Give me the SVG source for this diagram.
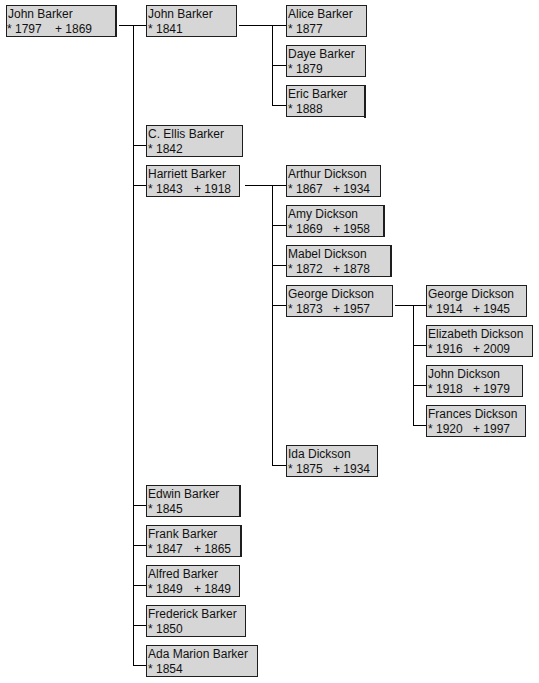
<svg xmlns="http://www.w3.org/2000/svg" width="539" height="683" viewBox="0 0 539 683">
<style>
.bx{fill:#d6d6d6;stroke:#1e1e1e;stroke-width:1}
.sh{stroke:#1e1e1e;stroke-width:2}
text{font-family:"Liberation Sans",Arial,sans-serif;font-size:12px;fill:#111}
.cn line{stroke:#000;stroke-width:1}
</style>
<rect width="539" height="683" fill="#fff"/>
<g class="cn">
<line x1="119" y1="25.5" x2="146" y2="25.5"/>
<line x1="133.5" y1="25" x2="133.5" y2="666"/>
<line x1="133" y1="145.5" x2="146" y2="145.5"/>
<line x1="133" y1="185.5" x2="146" y2="185.5"/>
<line x1="133" y1="505.5" x2="146" y2="505.5"/>
<line x1="133" y1="545.5" x2="146" y2="545.5"/>
<line x1="133" y1="585.5" x2="146" y2="585.5"/>
<line x1="133" y1="625.5" x2="146" y2="625.5"/>
<line x1="133" y1="665.5" x2="146" y2="665.5"/>
<line x1="239" y1="25.5" x2="286" y2="25.5"/>
<line x1="272.5" y1="25" x2="272.5" y2="106"/>
<line x1="272" y1="65.5" x2="286" y2="65.5"/>
<line x1="272" y1="105.5" x2="286" y2="105.5"/>
<line x1="245" y1="185.5" x2="286" y2="185.5"/>
<line x1="272.5" y1="185" x2="272.5" y2="466"/>
<line x1="272" y1="225.5" x2="286" y2="225.5"/>
<line x1="272" y1="265.5" x2="286" y2="265.5"/>
<line x1="272" y1="305.5" x2="286" y2="305.5"/>
<line x1="272" y1="465.5" x2="286" y2="465.5"/>
<line x1="395" y1="305.5" x2="426" y2="305.5"/>
<line x1="413.5" y1="305" x2="413.5" y2="426"/>
<line x1="413" y1="345.5" x2="426" y2="345.5"/>
<line x1="413" y1="385.5" x2="426" y2="385.5"/>
<line x1="413" y1="425.5" x2="426" y2="425.5"/>
</g>
<g id="n1"><rect class="bx" x="6.5" y="5.5" width="110" height="31"/><line class="sh" x1="116" y1="5" x2="116" y2="37"/><text x="8" y="18">John Barker</text><text x="7" y="33">* 1797<tspan x="55">+ 1869</tspan></text></g>
<g id="n2"><rect class="bx" x="146.5" y="5.5" width="90" height="31"/><text x="148" y="18">John Barker</text><text x="148" y="33">* 1841</text></g>
<g id="n3"><rect class="bx" x="146.5" y="125.5" width="96" height="31"/><text x="148" y="138">C. Ellis Barker</text><text x="148" y="153">* 1842</text></g>
<g id="n4"><rect class="bx" x="146.5" y="165.5" width="93" height="31"/><text x="148" y="178">Harriett Barker</text><text x="148" y="193">* 1843<tspan x="194">+ 1918</tspan></text></g>
<g id="n5"><rect class="bx" x="146.5" y="485.5" width="94" height="31"/><line class="sh" x1="240" y1="485" x2="240" y2="517"/><text x="148" y="498">Edwin Barker</text><text x="148" y="513">* 1845</text></g>
<g id="n6"><rect class="bx" x="146.5" y="525.5" width="95" height="31"/><line class="sh" x1="241" y1="525" x2="241" y2="557"/><text x="148" y="538">Frank Barker</text><text x="148" y="553">* 1847<tspan x="194">+ 1865</tspan></text></g>
<g id="n7"><rect class="bx" x="146.5" y="565.5" width="93" height="31"/><text x="148" y="578">Alfred Barker</text><text x="148" y="593">* 1849<tspan x="194">+ 1849</tspan></text></g>
<g id="n8"><rect class="bx" x="146.5" y="605.5" width="99" height="31"/><text x="148" y="618">Frederick Barker</text><text x="148" y="633">* 1850</text></g>
<g id="n9"><rect class="bx" x="146.5" y="645.5" width="111" height="31"/><text x="148" y="658">Ada Marion Barker</text><text x="148" y="673">* 1854</text></g>
<g id="n10"><rect class="bx" x="286.5" y="5.5" width="80" height="31"/><text x="288" y="18">Alice Barker</text><text x="288" y="33">* 1877</text></g>
<g id="n11"><rect class="bx" x="286.5" y="45.5" width="79" height="31"/><text x="288" y="58">Daye Barker</text><text x="288" y="73">* 1879</text></g>
<g id="n12"><rect class="bx" x="286.5" y="85.5" width="79" height="31"/><line class="sh" x1="365" y1="85" x2="365" y2="118"/><text x="288" y="98">Eric Barker</text><text x="288" y="113">* 1888</text></g>
<g id="n13"><rect class="bx" x="286.5" y="165.5" width="94" height="31"/><text x="288" y="178">Arthur Dickson</text><text x="288" y="193">* 1867<tspan x="333">+ 1934</tspan></text></g>
<g id="n14"><rect class="bx" x="286.5" y="205.5" width="98" height="31"/><line class="sh" x1="384" y1="205" x2="384" y2="237"/><text x="288" y="218">Amy Dickson</text><text x="288" y="233">* 1869<tspan x="333">+ 1958</tspan></text></g>
<g id="n15"><rect class="bx" x="286.5" y="245.5" width="105" height="31"/><line class="sh" x1="391" y1="245" x2="391" y2="277"/><text x="288" y="258">Mabel Dickson</text><text x="288" y="273">* 1872<tspan x="333">+ 1878</tspan></text></g>
<g id="n16"><rect class="bx" x="286.5" y="285.5" width="106" height="31"/><text x="288" y="298">George Dickson</text><text x="288" y="313">* 1873<tspan x="333">+ 1957</tspan></text></g>
<g id="n17"><rect class="bx" x="286.5" y="445.5" width="91" height="31"/><text x="288" y="458">Ida Dickson</text><text x="288" y="473">* 1875<tspan x="333">+ 1934</tspan></text></g>
<g id="n18"><rect class="bx" x="426.5" y="285.5" width="100" height="31"/><text x="428" y="298">George Dickson</text><text x="428" y="313">* 1914<tspan x="473">+ 1945</tspan></text></g>
<g id="n19"><rect class="bx" x="426.5" y="325.5" width="106" height="31"/><text x="428" y="338">Elizabeth Dickson</text><text x="428" y="353">* 1916<tspan x="473">+ 2009</tspan></text></g>
<g id="n20"><rect class="bx" x="426.5" y="365.5" width="96" height="31"/><text x="428" y="378">John Dickson</text><text x="428" y="393">* 1918<tspan x="473">+ 1979</tspan></text></g>
<g id="n21"><rect class="bx" x="426.5" y="405.5" width="99" height="31"/><text x="428" y="418">Frances Dickson</text><text x="428" y="433">* 1920<tspan x="473">+ 1997</tspan></text></g>
</svg>
